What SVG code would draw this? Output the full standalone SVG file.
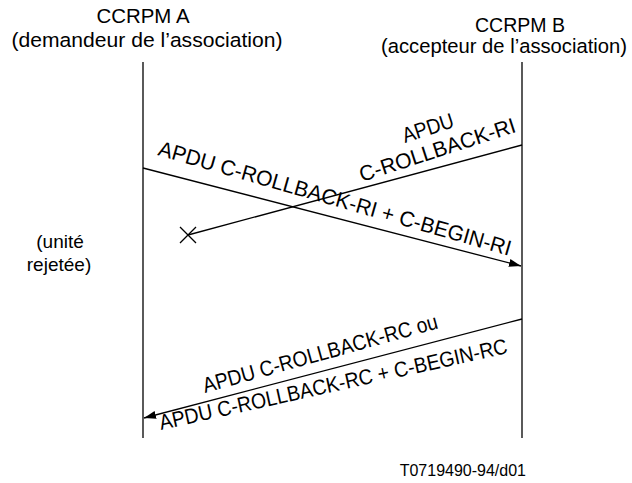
<svg xmlns="http://www.w3.org/2000/svg" width="632" height="483" viewBox="0 0 632 483">
<style>
text{font-family:"Liberation Sans",Arial,sans-serif;fill:#000;}
.h{font-size:20.5px;text-anchor:middle;}
.l{font-size:21.5px;}
.line{stroke:#000;stroke-width:1.3;fill:none;}
</style>
<defs>
<marker id="ah" viewBox="0 0 12 8" refX="12" refY="4" markerWidth="12" markerHeight="8" markerUnits="userSpaceOnUse" orient="auto">
<path d="M0,0 L12,4 L0,8 Z" fill="#000"/>
</marker>
</defs>
<rect width="632" height="483" fill="#fff"/>
<g id="ccrpmA">
<text class="h" x="143" y="23" textLength="93" lengthAdjust="spacingAndGlyphs">CCRPM A</text>
<text class="h" x="147" y="47" textLength="271" lengthAdjust="spacingAndGlyphs">(demandeur de l’association)</text>
<line class="line" x1="143" y1="62" x2="143" y2="438"/>
</g>
<g id="ccrpmB">
<text class="h" x="520" y="32" textLength="90" lengthAdjust="spacingAndGlyphs">CCRPM B</text>
<text class="h" x="504" y="53" textLength="246" lengthAdjust="spacingAndGlyphs">(accepteur de l’association)</text>
<line class="line" x1="522" y1="62" x2="522" y2="438"/>
</g>
<g id="note">
<text class="h" x="60" y="248" style="font-size:19px">(unité</text>
<text class="h" x="59" y="271" style="font-size:19px">rejetée)</text>
</g>
<g id="connectors">
<line class="line" x1="143" y1="168" x2="521" y2="266" marker-end="url(#ah)"/>
<line class="line" x1="522" y1="145" x2="188" y2="235"/>
<path class="line" d="M180,227 L196,243 M196,227 L180,243"/>
<line class="line" x1="522" y1="319" x2="144" y2="418" marker-end="url(#ah)"/>
</g>
<g id="labels">
<text class="l" transform="translate(157,155) rotate(16)" textLength="366" lengthAdjust="spacingAndGlyphs">APDU C-ROLLBACK-RI + C-BEGIN-RI</text>
<text class="l" transform="translate(405,143) rotate(-18)" textLength="53" lengthAdjust="spacingAndGlyphs">APDU</text>
<text class="l" transform="translate(362,182) rotate(-18)" textLength="163" lengthAdjust="spacingAndGlyphs">C-ROLLBACK-RI</text>
<text class="l" transform="translate(205,393) rotate(-15.5)" textLength="243" lengthAdjust="spacingAndGlyphs">APDU C-ROLLBACK-RC ou</text>
<text class="l" transform="translate(161,430) rotate(-12.5)" textLength="356" lengthAdjust="spacingAndGlyphs">APDU C-ROLLBACK-RC + C-BEGIN-RC</text>
</g>
<text x="526" y="476" style="font-size:16px;text-anchor:end">T0719490-94/d01</text>
</svg>
